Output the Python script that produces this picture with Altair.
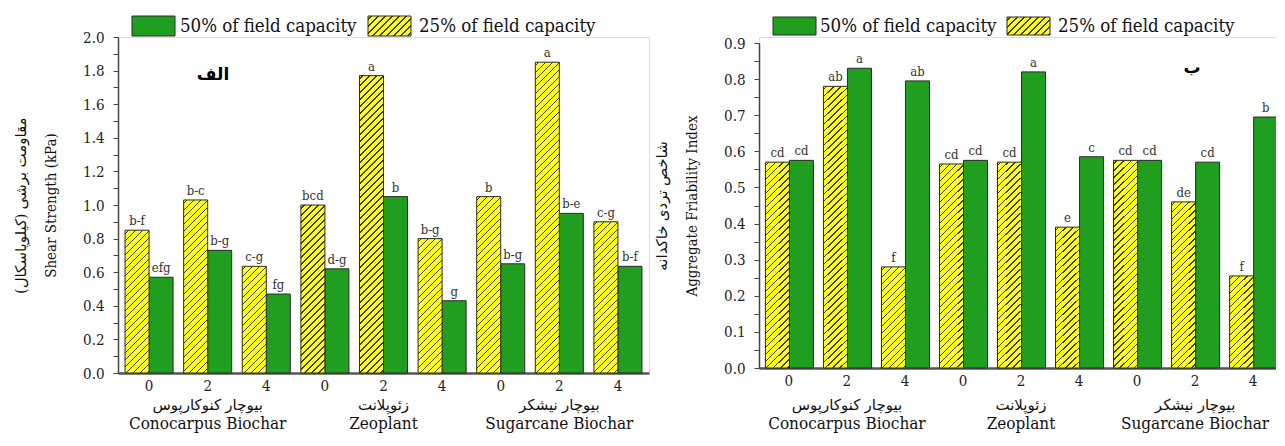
import altair as alt
import pandas as pd

# ---------------- data ----------------
levels = ["0", "2", "4"]
groups_en = ["Conocarpus Biochar", "Zeoplant", "Sugarcane Biochar"]
groups_fa = ["بیوچار کنوکارپوس", "زئوپلانت", "بیوچار نیشکر"]
series = ["25% of field capacity", "50% of field capacity"]
legend_order = ["50% of field capacity", "25% of field capacity"]

shear_25 = [0.85, 1.03, 0.635, 1.00, 1.77, 0.80, 1.05, 1.85, 0.90]
shear_50 = [0.57, 0.73, 0.47, 0.62, 1.05, 0.43, 0.65, 0.95, 0.635]
shear_25_letters = ["b-f", "b-c", "c-g", "bcd", "a", "b-g", "b", "a", "c-g"]
shear_50_letters = ["efg", "b-g", "fg", "d-g", "b", "g", "b-g", "b-e", "b-f"]

afi_25 = [0.57, 0.78, 0.28, 0.565, 0.57, 0.39, 0.575, 0.46, 0.255]
afi_50 = [0.575, 0.83, 0.795, 0.575, 0.82, 0.585, 0.575, 0.57, 0.695]
afi_25_letters = ["cd", "ab", "f", "cd", "cd", "e", "cd", "de", "f"]
afi_50_letters = ["cd", "a", "ab", "cd", "a", "c", "cd", "cd", "b"]

shear_title = ["مقاومت برشی (کیلوپاسکال)", "Shear Strength (kPa)"]
afi_title = ["شاخص تردی خاکدانه", "Aggregate Friability Index"]
panel_labels = ["الف", "ب"]

# ---------------- style ----------------
FONT = "DejaVu Serif Condensed, DejaVu Serif"
FA_FONT = "DejaVu Serif Condensed, DejaVu Serif, DejaVu Sans"
GREEN = "#1f9e1f"
YELLOW = "#ffff1a"
STROKE = "#2a2a2a"


def hatch(w, h, period=7.0, line=1.3, bg=YELLOW, fg="#3a3a10"):
    s = w + h
    k = s / (w * w + h * h)
    stops = [(0.0, bg)]
    c = period / 2.0
    while c - line / 2 < s:
        a = max(0.0, min(1.0, (c - line / 2) / s))
        b = max(0.0, min(1.0, (c + line / 2) / s))
        stops += [(a, bg), (a, fg), (b, fg), (b, bg)]
        c += period
    stops.append((1.0, bg))
    return alt.LinearGradient(
        gradient="linear",
        stops=[alt.GradientStop(offset=o, color=col) for o, col in stops],
        x1=0, y1=0, x2=k * w, y2=k * h,
    )


def make_panel(v25, v50, l25, l50, ymax, step, H, top, W, pi, po, ytitle,
               plabel, pxy, leg, glab_y):
    keys = [f"{g}{l}" for g in range(3) for l in levels]
    rows = []
    for i, k in enumerate(keys):
        rows.append(dict(key=k, series=series[0], value=v25[i], letter=l25[i]))
        rows.append(dict(key=k, series=series[1], value=v50[i], letter=l50[i]))
    df = pd.DataFrame(rows)
    plotH = H - top
    stepW = W / (9 - pi + 2 * po)
    barw = stepW * (1 - pi) / 2
    half = step / 2
    ticks = [round(i * half, 3) for i in range(int(round(ymax / half)) + 1)]

    x_enc = alt.X(
        "key:N", sort=keys,
        scale=alt.Scale(paddingInner=pi, paddingOuter=po),
        axis=alt.Axis(title=None, labelExpr="substring(datum.label, 1, 2)",
                      ticks=False, domainColor="#555", domainWidth=2.5,
                      labelFont=FONT, labelFontSize=15, labelColor="#222",
                      labelPadding=5, labelAngle=0),
    )
    y_enc = alt.Y(
        "value:Q",
        scale=alt.Scale(domain=[0, ymax], nice=False, zero=True, range=[H, top]),
        axis=alt.Axis(
            values=ticks,
            labelExpr=f"abs(round(datum.value/{step}) - datum.value/{step}) < 0.001 ? format(datum.value, '.1f') : ''",
            title=ytitle, grid=False, domainColor="#444", domainWidth=1.5,
            tickColor="#444", tickSize=5, labelFont=FONT, labelFontSize=15,
            labelColor="#222", labelPadding=9, titleFont=FA_FONT,
            titleFontSize=15, titleFontWeight="normal", titleColor="#111",
            titleLineHeight=30, titlePadding=24),
    )
    xo = alt.XOffset("series:N", sort=series,
                     scale=alt.Scale(paddingInner=0, paddingOuter=0))

    base = alt.Chart(df)
    layers = []
    layers.append(
        base.transform_filter(alt.datum.series == series[1])
        .mark_bar(fill=GREEN, stroke=STROKE, strokeWidth=1)
        .encode(x=x_enc, xOffset=xo, y=y_enc)
    )
    for i, k in enumerate(keys):
        h = v25[i] / ymax * plotH
        layers.append(
            base.transform_filter((alt.datum.series == series[0]) & (alt.datum.key == k))
            .mark_bar(fill=hatch(barw, h), stroke=STROKE, strokeWidth=1)
            .encode(x=x_enc, xOffset=xo, y=y_enc)
        )
    layers.append(
        base.mark_text(dy=-5, font=FONT, fontSize=13, color="#333",
                       baseline="alphabetic")
        .encode(x=x_enc, xOffset=xo, y=y_enc, text="letter:N")
    )
    gdf = pd.DataFrame({"key": [f"{g}2" for g in range(3)],
                        "fa": groups_fa, "en": groups_en})
    layers.append(
        alt.Chart(gdf).mark_text(font=FA_FONT, fontSize=15, color="#111",
                                 baseline="alphabetic")
        .encode(x=x_enc, y=alt.value(H + glab_y[0]), text="fa:N")
    )
    layers.append(
        alt.Chart(gdf).mark_text(font=FONT, fontSize=17, color="#111",
                                 baseline="alphabetic")
        .encode(x=x_enc, y=alt.value(H + glab_y[1]), text="en:N")
    )
    # legend
    (gx, yx, ly0, ly1, gtx, ytx) = leg
    ldf = pd.DataFrame({"label": legend_order})
    layers.append(
        alt.Chart(ldf).transform_filter(alt.datum.label == legend_order[0])
        .mark_rect(fill=GREEN, stroke=STROKE, strokeWidth=1)
        .encode(x=alt.value(gx), x2=alt.value(gx + 43), y=alt.value(ly0), y2=alt.value(ly1))
    )
    layers.append(
        alt.Chart(ldf).transform_filter(alt.datum.label == legend_order[1])
        .mark_rect(fill=hatch(43, ly1 - ly0), stroke=STROKE, strokeWidth=1)
        .encode(x=alt.value(yx), x2=alt.value(yx + 43), y=alt.value(ly0), y2=alt.value(ly1))
    )
    layers.append(
        alt.Chart(ldf).transform_filter(alt.datum.label == legend_order[0])
        .mark_text(font=FONT, fontSize=18.5, color="#111", align="left", baseline="middle")
        .encode(x=alt.value(gtx), y=alt.value((ly0 + ly1) / 2), text="label:N")
    )
    layers.append(
        alt.Chart(ldf).transform_filter(alt.datum.label == legend_order[1])
        .mark_text(font=FONT, fontSize=18.5, color="#111", align="left", baseline="middle")
        .encode(x=alt.value(ytx), y=alt.value((ly0 + ly1) / 2), text="label:N")
    )
    pdf = pd.DataFrame({"t": [plabel]})
    layers.append(
        alt.Chart(pdf).mark_text(font=FA_FONT, fontSize=17, fontWeight="bold", color="#000")
        .encode(x=alt.value(pxy[0]), y=alt.value(pxy[1]), text="t:N")
    )
    return alt.layer(*layers).properties(width=W, height=H)


left = make_panel(shear_25, shear_50, shear_25_letters, shear_50_letters,
                  2.0, 0.2, 336, 0, 531, 0.18, 0.12, shear_title,
                  panel_labels[0], (95, 38),
                  (14, 250, -21, -1, 62, 301), (37, 56))
right = make_panel(afi_25, afi_50, afi_25_letters, afi_50_letters,
                   0.9, 0.1, 331, 6, 524, 0.19, 0.11, afi_title,
                   panel_labels[1], (433, 31),
                   (14, 248, -20, -2, 61, 299), (42, 61))

chart = (
    alt.hconcat(left, right, spacing=110, bounds="flush")
    .properties(padding={"left": 5, "top": 7, "right": -8, "bottom": 0})
    .configure_view(stroke=None)
    .configure(background="white")
)

chart.save("out.html", embed_options={"renderer": "svg", "actions": False})
